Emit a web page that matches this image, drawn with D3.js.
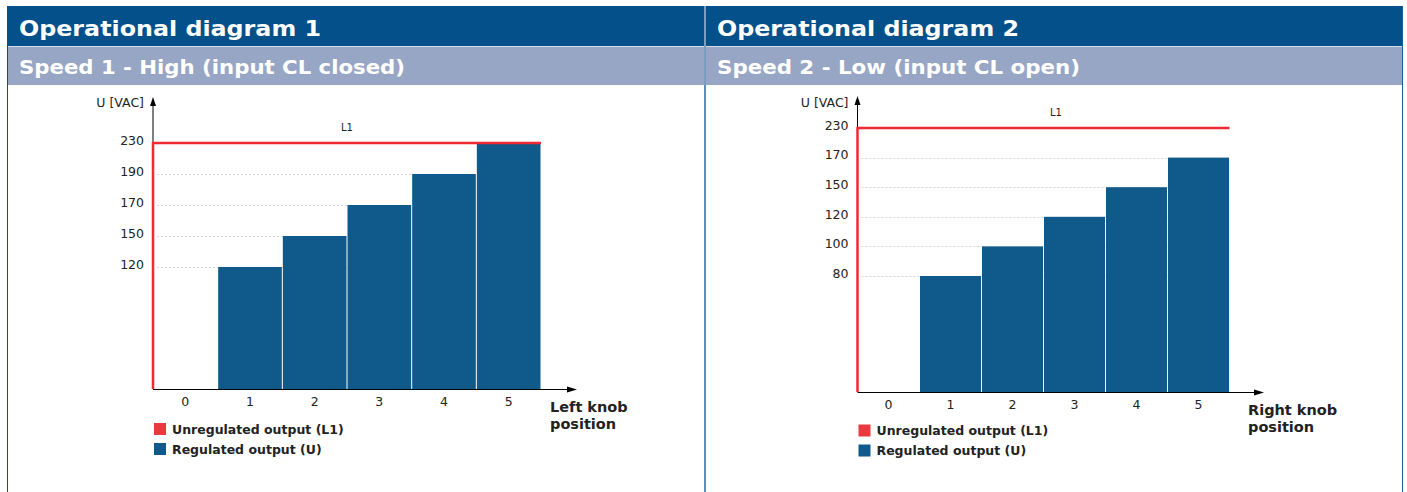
<!DOCTYPE html>
<html>
<head>
<meta charset="utf-8">
<script src="https://cdn.jsdelivr.net/npm/d3@7"></script>
<style>
  body { margin: 0; background: #fff; }
  svg { display: block; font-family: "DejaVu Sans", Verdana, sans-serif; }
</style>
</head>
<body>
<svg id="chart" width="1407" height="492"></svg>
<script>
// knob positions on the x axis
const positions = [0, 1, 2, 3, 4, 5]
// supply voltage (unregulated L1)
const l1Voltage = 230

// diagram 1 - high speed
const ticks1 = [120, 150, 170, 190, 230]
const values1 = [0, 120, 150, 170, 190, 230]

// diagram 2 - low speed
const ticks2 = [80, 100, 120, 150, 170, 230]
const values2 = [0, 80, 100, 120, 150, 170]

const titles = ["Operational diagram 1", "Operational diagram 2"]
const subtitles = ["Speed 1 - High (input CL closed)", "Speed 2 - Low (input CL open)"]
const knobLabels = [["Left knob", "position"], ["Right knob", "position"]]
const legendItems = ["Unregulated output (L1)", "Regulated output (U)"]

const RED = "#ee2b33"
const BLUE = "#0f5a8b"

const svg = d3.select("#chart")

// header bands
svg.append("rect").attr("x", 7).attr("y", 6).attr("width", 1396).attr("height", 40).attr("fill", "#03508a")
svg.append("rect").attr("x", 7).attr("y", 47).attr("width", 1396).attr("height", 38).attr("fill", "#97a6c4")
svg.append("line").attr("x1", 7).attr("x2", 1403).attr("y1", 46.5).attr("y2", 46.5).attr("stroke", "#d6dde9")

// borders and separator
svg.append("line").attr("x1", 7.5).attr("x2", 7.5).attr("y1", 6).attr("y2", 492).attr("stroke", "#0a4f87")
svg.append("line").attr("x1", 1402.5).attr("x2", 1402.5).attr("y1", 6).attr("y2", 492).attr("stroke", "#1b5f96")
svg.append("line").attr("x1", 705).attr("x2", 705).attr("y1", 6).attr("y2", 85).attr("stroke", "#7c9cc0").attr("stroke-width", 2)
svg.append("line").attr("x1", 705).attr("x2", 705).attr("y1", 85).attr("y2", 492).attr("stroke", "#5b8fc0").attr("stroke-width", 2)

// header texts
const headX = [19, 717]
const titleW = [302, 302]
const subW = [386, 363]
titles.forEach((t, i) => {
    svg.append("text")
        .attr("x", headX[i]).attr("y", 36)
        .attr("fill", "#fff").attr("font-weight", "bold").attr("font-size", 22)
        .attr("textLength", titleW[i]).attr("lengthAdjust", "spacingAndGlyphs")
        .text(t)
    svg.append("text")
        .attr("x", headX[i]).attr("y", 74)
        .attr("fill", "#fff").attr("font-weight", "bold").attr("font-size", 19)
        .attr("textLength", subW[i]).attr("lengthAdjust", "spacingAndGlyphs")
        .text(subtitles[i])
})

const drawDiagram = (cfg) => {
    const g = svg.append("g")
    const x0 = cfg.x0, base = cfg.base

    // x: band per knob position
    const x = d3.scaleBand().domain(positions).range([x0, cfg.x1]).padding(0)

    // y: the drawing puts the ticks at even steps, not linear in volts
    const yDomain = [0].concat(cfg.ticks)
    const yRange = [base].concat(cfg.ticks.map((t, i) => base - cfg.firstGap - i * cfg.step))
    const y = d3.scaleLinear().domain(yDomain).range(yRange)

    // dashed gridlines
    g.selectAll("line.grid")
        .data(cfg.ticks)
        .enter()
        .append("line")
        .attr("class", "grid")
        .attr("x1", x0 + 4).attr("x2", cfg.x1)
        .attr("y1", d => Math.round(y(d)) + 0.5).attr("y2", d => Math.round(y(d)) + 0.5)
        .attr("stroke", "#d4d4d4").attr("stroke-dasharray", "2,2")

    // bars
    g.selectAll("rect.bar")
        .data(cfg.values.map((v, i) => ({ pos: positions[i], v: v })).filter(d => d.v > 0))
        .enter()
        .append("rect")
        .attr("class", "bar")
        .attr("x", d => x(d.pos) + 0.5)
        .attr("width", x.bandwidth() - 1)
        .attr("y", d => y(d.v))
        .attr("height", d => base - y(d.v))
        .attr("fill", BLUE)

    // axes
    g.append("line").attr("x1", x0).attr("x2", x0).attr("y1", base).attr("y2", cfg.yTip + 8)
        .attr("stroke", "#000")
    g.append("path")
        .attr("d", `M${x0 - 3},${cfg.yTip + 9}L${x0},${cfg.yTip}L${x0 + 3},${cfg.yTip + 9}Z`)
        .attr("fill", "#000")
    g.append("line").attr("x1", x0).attr("x2", cfg.xTip - 8).attr("y1", base + 0.5).attr("y2", base + 0.5)
        .attr("stroke", "#000")
    g.append("path")
        .attr("d", `M${cfg.xTip - 10},${base - 2.5}L${cfg.xTip},${base + 0.5}L${cfg.xTip - 10},${base + 3.5}Z`)
        .attr("fill", "#000")

    // unregulated L1 line
    const yl = y(l1Voltage)
    g.append("path")
        .attr("d", `M${x0},${base}L${x0},${yl}L${cfg.x1},${yl}`)
        .attr("fill", "none").attr("stroke", RED).attr("stroke-width", 2.5)
    g.append("text")
        .attr("x", cfg.l1x).attr("y", yl - 16).attr("dy", "0.35em")
        .attr("text-anchor", "middle").attr("font-size", 10).attr("fill", "#222")
        .text("L1")

    // y tick labels
    g.selectAll("text.ytick")
        .data(cfg.ticks)
        .enter()
        .append("text")
        .attr("class", "ytick")
        .attr("x", x0 - 9)
        .attr("y", d => y(d) - 2.5)
        .attr("dy", "0.35em")
        .attr("text-anchor", "end").attr("font-size", 12.5).attr("fill", "#222")
        .text(d => d)
    g.append("text")
        .attr("x", x0 - 9).attr("y", 103).attr("dy", "0.35em")
        .attr("text-anchor", "end").attr("font-size", 12.5).attr("fill", "#222")
        .text("U [VAC]")

    // x tick labels
    g.selectAll("text.xtick")
        .data(positions)
        .enter()
        .append("text")
        .attr("class", "xtick")
        .attr("x", d => x(d) + x.bandwidth() / 2)
        .attr("y", base + 13).attr("dy", "0.35em")
        .attr("text-anchor", "middle").attr("font-size", 12.5).attr("fill", "#222")
        .text(d => d)

    // axis title
    cfg.knob.forEach((t, i) => {
        g.append("text")
            .attr("x", cfg.knobX).attr("y", base + cfg.knobDy + i * 17).attr("dy", "0.35em")
            .attr("font-size", 14.5).attr("font-weight", "bold").attr("fill", "#222")
            .text(t)
    })

    // legend
    legendItems.forEach((t, i) => {
        g.append("rect")
            .attr("x", x0 + 1).attr("y", cfg.legendY + i * 20)
            .attr("width", 12).attr("height", 12)
            .attr("fill", i === 0 ? "#ea3a40" : BLUE)
        g.append("text")
            .attr("x", x0 + 19).attr("y", cfg.legendY + 6.5 + i * 20).attr("dy", "0.35em")
            .attr("font-size", 12.5).attr("font-weight", "bold").attr("fill", "#222")
            .text(t)
    })
}

drawDiagram({ x0: 153, x1: 541, xTip: 577, yTip: 97, base: 389, firstGap: 122, step: 31,
    ticks: ticks1, values: values1, knob: knobLabels[0], l1x: 347,
    knobX: 550, knobDy: 18, legendY: 423 })
drawDiagram({ x0: 857.5, x1: 1229.5, xTip: 1264, yTip: 96, base: 392, firstGap: 116, step: 29.6,
    ticks: ticks2, values: values2, knob: knobLabels[1], l1x: 1056,
    knobX: 1248, knobDy: 17.5, legendY: 424.5 })
</script>
</body>
</html>
